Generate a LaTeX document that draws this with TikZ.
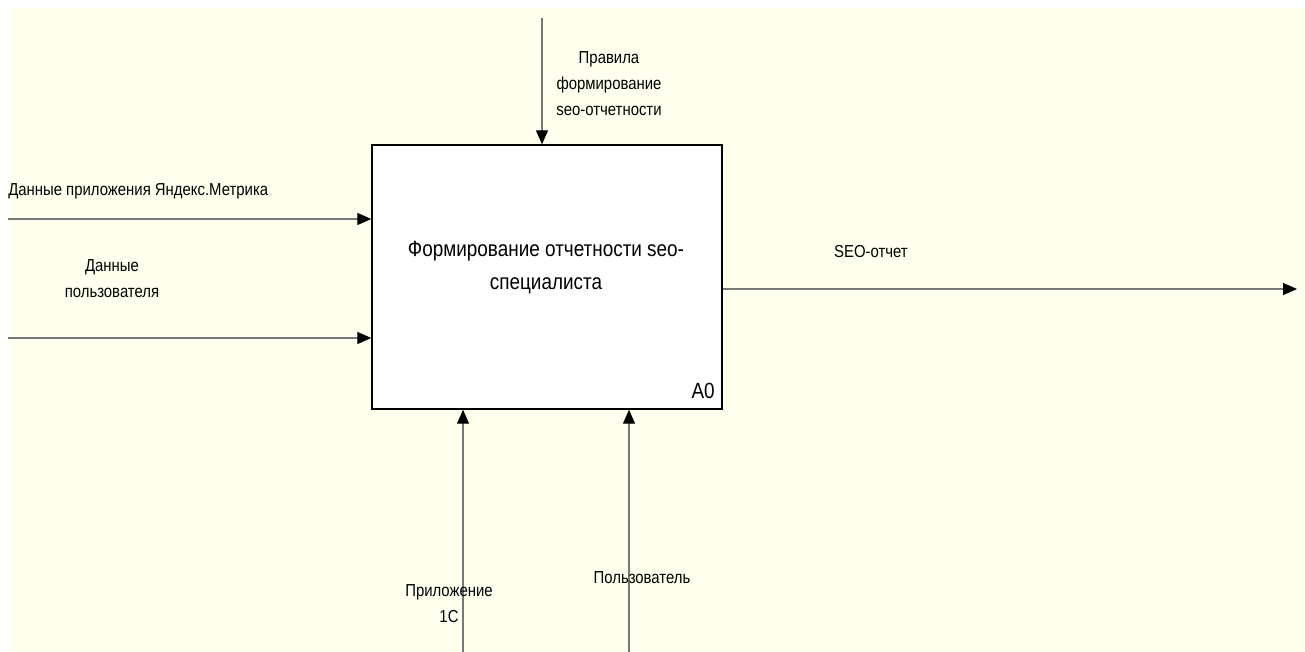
\documentclass[tikz,border=0pt]{standalone}
\usepackage{fontspec}
\setmainfont[FakeStretch=0.86]{Liberation Sans}
\usetikzlibrary{arrows.meta}
\definecolor{bgcream}{RGB}{255,255,238}
\definecolor{linegrey}{RGB}{120,120,120}
\begin{document}
\begin{tikzpicture}[x=0.75pt,y=-0.75pt,
  conn/.style={draw=linegrey,line width=1pt,-{Triangle[length=10.5pt,width=9pt,black]}},
  lbl/.style={inner sep=0pt,align=center,font=\fontsize{13pt}{19.5pt}\selectfont},
  mainlbl/.style={inner sep=0pt,align=center,font=\fontsize{16.5pt}{24.75pt}\selectfont},
  funcbox/.style={draw=black,fill=white,line width=1.1pt,minimum width=262.5pt,minimum height=198pt,inner sep=0pt}]
\useasboundingbox (0,0) rectangle (1305,652);
\fill[white] (0,0) rectangle (1305,652);
\fill[bgcream] (8,8) rectangle (1305,652);

\node[funcbox] (box) at (547,277) {};
\node[mainlbl] (title) at (546,268) {Формирование отчетности seo-\\специалиста};
\node[mainlbl,anchor=base east] (a0) at (715,398) {A0};

\coordinate (in1) at (8,219);
\coordinate (in2) at (8,338);
\coordinate (ctl) at (542,18);
\coordinate (mech1) at (463,652);
\coordinate (mech2) at (629,652);
\coordinate (out) at (1297,289);

\draw[conn] (in1) -- (in1 -| box.west);
\draw[conn] (in2) -- (in2 -| box.west);
\draw[conn] (ctl) -- (ctl |- box.north);
\draw[conn] (mech1) -- (mech1 |- box.south);
\draw[conn] (mech2) -- (mech2 |- box.south);
\draw[conn] (out -| box.east) -- (out);

\node[lbl,anchor=base west] (l1) at (8,196) {Данные приложения Яндекс.Метрика};
\node[lbl] (l2) at (112,279) {Данные\\пользователя};
\node[lbl] (l3) at (609,84) {Правила\\формирование\\seo-отчетности};
\node[lbl] (l4) at (871,252) {SEO-отчет};
\node[lbl] (l5) at (449,604) {Приложение\\1С};
\node[lbl] (l6) at (642,578) {Пользователь};
\end{tikzpicture}
\end{document}
